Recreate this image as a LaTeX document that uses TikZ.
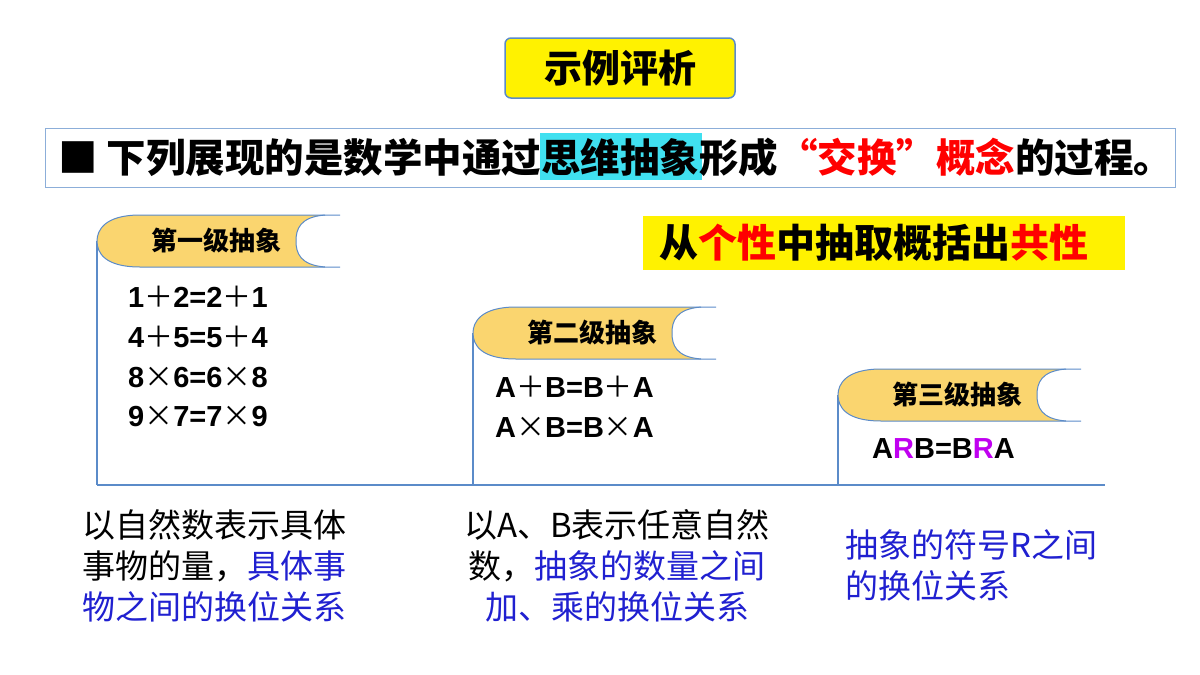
\documentclass[tikz,border=0pt]{standalone}
\usepackage{fontspec}
\setmainfont{Liberation Sans}
\newfontfamily\cjk{Noto Sans CJK SC}
\definecolor{tabY}{HTML}{FAD56F}
\definecolor{lnB}{HTML}{5B8BC9}
\definecolor{txB}{HTML}{2020D0}
\definecolor{hiC}{HTML}{40E0F0}
\definecolor{pur}{HTML}{C000F0}
\newcommand\pl{{\cjk\mdseries ＋}}
\newcommand\ti{{\cjk\mdseries ×}}
\tikzset{ln/.style={draw=lnB,line width=1.2pt},
eq/.style={anchor=west,font=\fontsize{29}{30}\selectfont\bfseries,inner sep=0},
tabt/.style={font=\cjk\fontsize{26}{28}\selectfont\bfseries,inner sep=0},
bt/.style={font=\cjk\fontsize{33}{41}\selectfont,inner sep=0,align=left}}
\newcommand\tabshape[4]{% x left, y top, name, text
\fill[tabY] (#1+43,#2) .. controls (#1+8,#2) and (#1,#2+15) .. (#1,#2+26) .. controls (#1,#2+38) and (#1+8,#2+52) .. (#1+43,#2+52) -- (#1+228,#2+52) .. controls (#1+203,#2+50) and (#1+199,#2+38) .. (#1+199,#2+26) .. controls (#1+199,#2+14) and (#1+203,#2+2) .. (#1+228,#2) -- cycle;
\draw[lnB,line width=1pt] (#1+243,#2) -- (#1+43,#2) .. controls (#1+8,#2) and (#1,#2+15) .. (#1,#2+26) .. controls (#1,#2+38) and (#1+8,#2+52) .. (#1+43,#2+52) -- (#1+243,#2+52);
\draw[lnB,line width=1pt] (#1+228,#2+52) .. controls (#1+203,#2+50) and (#1+199,#2+38) .. (#1+199,#2+26) .. controls (#1+199,#2+14) and (#1+203,#2+2) .. (#1+228,#2);
\node[tabt] (#3) at (#1+119,#2+26) {#4};}
\begin{document}
\begin{tikzpicture}[x=1pt,y=-1pt]
\useasboundingbox (0,0) rectangle (1200,675);
% title
\draw[fill=yellow,draw=lnB,line width=1.5pt,rounded corners=6pt] (505,38) rectangle (735,98);
\node[font=\cjk\fontsize{38}{40}\selectfont\bfseries] (title) at (620,68) {示例评析};
% banner
\draw[draw=lnB!70,line width=1pt] (45,128) rectangle (1175,187);
\fill[hiC] (540,133) rectangle (702,180);
\node[anchor=west,font=\cjk\fontsize{39.5}{40}\selectfont\bfseries,inner sep=0] (banner) at (58,157) {■\ 下列展现的是数学中通过思维抽象形成\textcolor{red}{“交换”概念}的过程。};
% common
\fill[yellow] (643,216) rectangle (1125,270);
\node[font=\cjk\fontsize{39}{40}\selectfont\bfseries,inner sep=0] (gong) at (874,243) {从\textcolor{red}{个性}中抽取概括出\textcolor{red}{共性}};
% lines
\draw[ln] (97,241) -- (97,485);
\draw[ln] (473,333) -- (473,485);
\draw[ln] (838,395) -- (838,485);
\draw[ln] (97,485) -- (1105,485);
\tabshape{97}{215}{t1}{第一级抽象}
\tabshape{473}{307}{t2}{第二级抽象}
\tabshape{838}{369}{t3}{第三级抽象}
% equations
\node[eq] (e1) at (128,297) {1\pl2=2\pl1};
\node[eq] (e2) at (128,337) {4\pl5=5\pl4};
\node[eq] (e3) at (128,378) {8\ti6=6\ti8};
\node[eq] (e4) at (128,417) {9\ti7=7\ti9};
\node[eq] (f1) at (495,387) {A\pl B=B\pl A};
\node[eq] (f2) at (495,427) {A\ti B=B\ti A};
\node[eq] (g1) at (872,449) {A\textcolor{pur}{R}B=B\textcolor{pur}{R}A};
% bottom texts
\node[bt,anchor=north west] (b1) at (82,509) {以自然数表示具体\\事物的量，\textcolor{txB}{具体事}\\\textcolor{txB}{物之间的换位关系}};
\node[bt,anchor=north,align=center] (b2) at (617,509) {以A、B表示任意自然\\数，\textcolor{txB}{抽象的数量之间}\\\textcolor{txB}{加、乘的换位关系}};
\node[bt,anchor=north west,text=txB] (b3) at (845,529) {抽象的符号R之间\\的换位关系};
\end{tikzpicture}
\end{document}
